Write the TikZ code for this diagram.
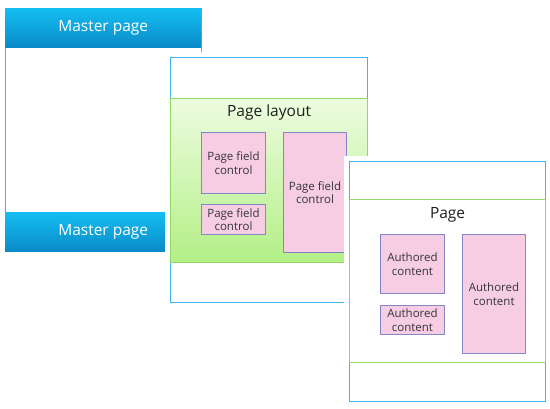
\documentclass[tikz,border=0pt]{standalone}
\usepackage{fontspec}
\setmainfont{Open Sans}
\usetikzlibrary{positioning}

\definecolor{barTop}{HTML}{14BEF2}
\definecolor{barBot}{HTML}{0A8BC8}
\definecolor{frameBlue}{HTML}{3DB6E8}
\definecolor{layGreen}{HTML}{92D865}
\definecolor{layTop}{HTML}{EDFCE0}
\definecolor{layBot}{HTML}{B3EF86}
\definecolor{fieldFill}{HTML}{F6CDE2}
\definecolor{fieldLine}{HTML}{8486C8}
\definecolor{titleText}{HTML}{1E1E1E}

\tikzset{
  masterbar/.style={top color=barTop, bottom color=barBot, draw=none,
    anchor=north west, inner sep=0pt},
  bartext/.style={text=white, font=\fontsize{15.5}{18}\selectfont, inner sep=0pt},
  pageframe/.style={draw=frameBlue, line width=1.2pt, fill=white,
    preaction={draw=white, line width=11pt},
    anchor=north west, inner sep=0pt},
  layoutarea/.style={draw=layGreen, line width=1.2pt, top color=layTop,
    bottom color=layBot, anchor=north west, inner sep=0pt},
  pagearea/.style={draw=layGreen, line width=1.2pt, fill=white,
    anchor=north west, inner sep=0pt},
  title/.style={text=titleText, font=\fontsize{15.5}{18}\selectfont, inner sep=0pt},
  field/.style={draw=fieldLine, line width=1pt, fill=fieldFill, align=center,
    text=titleText!90, font=\fontsize{11.5}{13.5}\selectfont, inner sep=0pt},
}

\begin{document}
\begin{tikzpicture}[x=1pt, y=-1pt]
  \useasboundingbox (0,0) rectangle (550,408);

  % master page
  \node[pageframe, preaction={draw=none}, minimum width=196pt, minimum height=242pt] (master) at (5,8) {};
  \node[masterbar, minimum width=196pt, minimum height=39pt] (mtop) at (master.north west) {};
  \node[bartext] (mtoplabel) at (mtop.center) {Master page};
  \node[masterbar, minimum width=160pt, minimum height=39pt, anchor=south west] (mbot) at (master.south west) {};
  \node[bartext] (mbotlabel) at (mtop.center |- mbot.center) {Master page};

  % page layout
  \node[pageframe, minimum width=197pt, minimum height=245pt] (lpage) at (170,57) {};
  \node[layoutarea, minimum width=197pt, minimum height=164pt, below=41pt of lpage.north, anchor=north] (layout) {};
  \node[title, below=7pt of layout.north] (laytitle) {Page layout};
  \node[field, minimum width=64pt, minimum height=61pt, below right=34pt and 31pt of layout.north west] (pf1) {Page field\\control};
  \node[field, minimum width=64pt, minimum height=30pt, below=10pt of pf1] (pf2) {Page field\\control};
  \node[field, minimum width=63pt, minimum height=120pt, right=17pt of pf1.north east, anchor=north west] (pf3) {Page field\\control};

  % page
  \node[pageframe, minimum width=196pt, minimum height=240pt] (cpage) at (349,161) {};
  \node[pagearea, minimum width=196pt, minimum height=163pt, below=38pt of cpage.north, anchor=north] (content) {};
  \node[title, below=8pt of content.north] (pagetitle) {Page};
  \node[field, minimum width=64pt, minimum height=59pt, below right=35pt and 31pt of content.north west] (ac1) {Authored\\content};
  \node[field, minimum width=64pt, minimum height=29pt, below=11pt of ac1] (ac2) {Authored\\content};
  \node[field, minimum width=63pt, minimum height=119pt, right=17pt of ac1.north east, anchor=north west] (ac3) {Authored\\content};
\end{tikzpicture}
\end{document}
